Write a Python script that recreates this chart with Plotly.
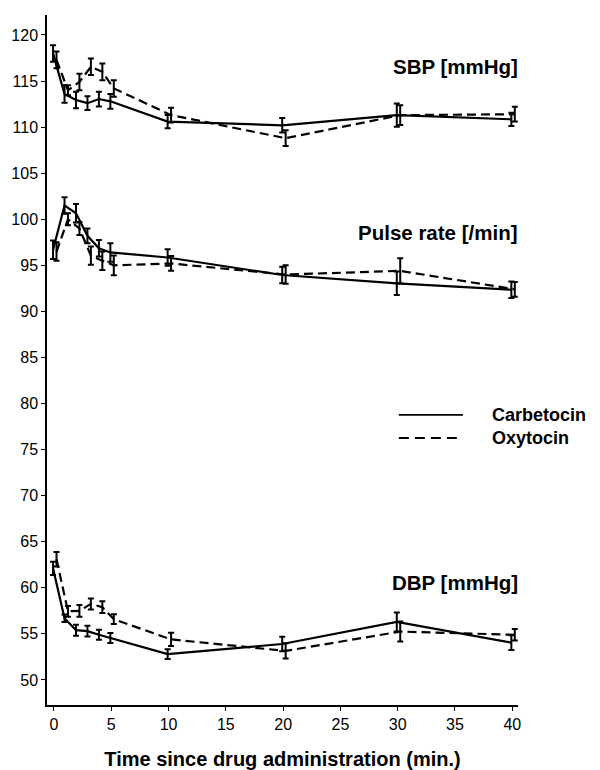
import plotly.graph_objects as go

# ---- data ----
times = [0, 1, 2, 3, 4, 5, 10, 20, 30, 40]

sbp_carb = [118.0, 113.6, 112.95, 112.6, 113.05, 112.8, 110.6, 110.2, 111.3, 110.85]
sbp_carb_se = [0.9, 0.95, 0.9, 0.75, 0.8, 0.8, 0.72, 0.78, 1.27, 0.72]
sbp_oxy = [117.3, 114.0, 114.9, 116.55, 116.0, 114.2, 111.3, 108.8, 111.3, 111.4]
sbp_oxy_se = [0.9, 0.55, 0.9, 0.9, 0.9, 0.9, 0.8, 0.85, 1.08, 0.8]

pulse_carb = [96.7, 101.5, 100.65, 98.2, 96.85, 96.4, 95.85, 93.95, 93.05, 92.35]
pulse_carb_se = [1.0, 0.9, 1.0, 0.8, 0.9, 1.0, 0.9, 0.9, 1.27, 0.9]
pulse_oxy = [96.5, 100.0, 99.0, 96.05, 95.5, 95.0, 95.2, 94.0, 94.4, 92.4]
pulse_oxy_se = [1.0, 0.65, 0.7, 1.0, 1.0, 1.08, 0.8, 1.0, 1.36, 0.8]

dbp_carb = [62.1, 56.7, 55.4, 55.3, 54.9, 54.55, 52.8, 53.9, 56.3, 54.05]
dbp_carb_se = [0.72, 0.4, 0.6, 0.58, 0.54, 0.54, 0.54, 0.78, 1.03, 0.8]
dbp_oxy = [63.1, 57.45, 57.5, 58.25, 57.9, 56.6, 54.4, 53.15, 55.25, 54.9]
dbp_oxy_se = [0.78, 0.58, 0.63, 0.6, 0.63, 0.54, 0.72, 0.83, 1.08, 0.63]

series_labels = ["SBP [mmHg]", "Pulse rate [/min]", "DBP [mmHg]"]
label_y = [116.6, 98.6, 60.6]
drug_names = ["Carbetocin", "Oxytocin"]
y_ticks = list(range(50, 121, 5))
x_ticks = list(range(0, 41, 5))

# ---- style ----
CARB_SHIFT = -0.08
OXY_SHIFT = 0.22
FONT = "Liberation Sans, Arial, Helvetica, sans-serif"

fig = go.Figure()

groups = [
    (sbp_carb, sbp_carb_se, sbp_oxy, sbp_oxy_se),
    (pulse_carb, pulse_carb_se, pulse_oxy, pulse_oxy_se),
    (dbp_carb, dbp_carb_se, dbp_oxy, dbp_oxy_se),
]

for c, cse, o, ose in groups:
    fig.add_trace(go.Scatter(
        x=[t + CARB_SHIFT for t in times], y=c, mode="lines",
        line=dict(color="black", width=2.2),
        error_y=dict(type="data", array=cse, color="black", thickness=2, width=3),
        showlegend=False,
    ))
    fig.add_trace(go.Scatter(
        x=[t + OXY_SHIFT for t in times], y=o, mode="lines",
        line=dict(color="black", width=2.2, dash="9px,5px"),
        error_y=dict(type="data", array=ose, color="black", thickness=2, width=3),
        showlegend=False,
    ))

for lab, yy in zip(series_labels, label_y):
    fig.add_annotation(text=f"<b>{lab}</b>", xref="paper", yref="y", x=1.005, y=yy,
                       xanchor="right", yanchor="middle", showarrow=False,
                       font=dict(size=20.5, color="black", family=FONT))

# manual legend
leg_y = [78.76, 76.26]
dashes = ["solid", "10px,6px"]
for name, ly, d in zip(drug_names, leg_y, dashes):
    fig.add_shape(type="line", xref="paper", yref="y", x0=0.747, x1=0.883, y0=ly, y1=ly,
                  line=dict(color="black", width=1.8, dash=d))
    fig.add_annotation(text=f"<b>{name}</b>", xref="paper", yref="y", x=0.94, y=ly,
                       xanchor="left", yanchor="middle", showarrow=False,
                       font=dict(size=18, color="black", family=FONT))

# the page adds an 8px body margin; compensate in size and margins
fig.update_layout(
    width=592, height=762,
    margin=dict(l=39, r=82, t=7, b=65),
    paper_bgcolor="white", plot_bgcolor="white",
    font=dict(family=FONT, size=16, color="black"),
    showlegend=False,
)
fig.update_xaxes(
    range=[-0.61, 40.5], tickvals=x_ticks, ticks="outside", ticklen=4, tickwidth=1,
    tickcolor="black", showline=True, linecolor="black", linewidth=1.5,
    showgrid=False, zeroline=False,
    tickfont=dict(size=16),
    title=dict(text="<b>Time since drug administration (min.)</b>",
               font=dict(size=20), standoff=21),
    automargin=False,
)
fig.update_yaxes(
    range=[47.28, 122.17], tickvals=y_ticks, ticks="outside", ticklen=4, tickwidth=1,
    tickcolor="black", showline=True, linecolor="black", linewidth=1.5,
    showgrid=False, zeroline=False, tickfont=dict(size=16), automargin=False,
)

fig.write_html("out.html")
